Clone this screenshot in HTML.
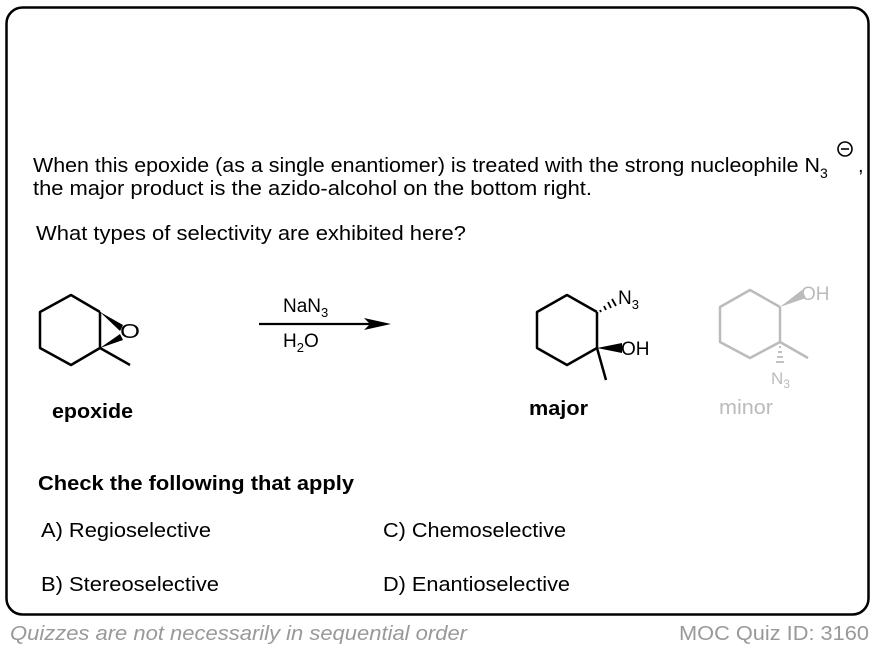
<!DOCTYPE html>
<html><head><meta charset="utf-8"><style>
html,body{margin:0;padding:0;background:#fff;}
svg{display:block;font-family:"Liberation Sans",Arial,sans-serif;}
</style></head><body>
<svg width="876" height="650" viewBox="0 0 876 650" xmlns="http://www.w3.org/2000/svg">
<rect x="6.5" y="7.5" width="862" height="607" rx="16" ry="16" fill="#fff" stroke="#000" stroke-width="2.5"/>
<g font-size="20" fill="#000">
<text x="33" y="172" textLength="787" lengthAdjust="spacingAndGlyphs">When this epoxide (as a single enantiomer) is treated with the strong nucleophile N</text>
<text x="820" y="178" font-size="14">3</text>
<text x="858" y="172">,</text>
<text x="33" y="195" textLength="559" lengthAdjust="spacingAndGlyphs">the major product is the azido-alcohol on the bottom right.</text>
<text x="36" y="240" textLength="430" lengthAdjust="spacingAndGlyphs">What types of selectivity are exhibited here?</text>
<text x="38" y="490" font-weight="bold" textLength="316" lengthAdjust="spacingAndGlyphs">Check the following that apply</text>
<text x="41" y="537" textLength="170" lengthAdjust="spacingAndGlyphs">A) Regioselective</text>
<text x="383" y="537" textLength="183" lengthAdjust="spacingAndGlyphs">C) Chemoselective</text>
<text x="41" y="591" textLength="178" lengthAdjust="spacingAndGlyphs">B) Stereoselective</text>
<text x="383" y="591" textLength="187" lengthAdjust="spacingAndGlyphs">D) Enantioselective</text>
</g>
<circle cx="845" cy="149" r="7" fill="none" stroke="#000" stroke-width="1.6"/>
<line x1="841" y1="149" x2="849" y2="149" stroke="#000" stroke-width="1.6"/>
<text x="10" y="640" font-size="20" font-style="italic" fill="#999" textLength="457" lengthAdjust="spacingAndGlyphs">Quizzes are not necessarily in sequential order</text>
<text x="679" y="640" font-size="20" fill="#999" textLength="190" lengthAdjust="spacingAndGlyphs">MOC Quiz ID: 3160</text>

<!-- epoxide -->
<g stroke="#000" stroke-width="2.5" fill="none" stroke-linejoin="round">
<polyline points="100,312 71,295 40,312 40,348 71,365 100,348 100,312"/>
<line x1="100" y1="348" x2="130" y2="365"/>
</g>
<polygon points="100,312 123,325 120,331" fill="#000"/>
<polygon points="100,348 120,334 123,340" fill="#000"/>
<text x="120" y="338" font-size="20" textLength="20" lengthAdjust="spacingAndGlyphs">O</text>
<text x="52" y="418" font-size="20" font-weight="bold" textLength="81" lengthAdjust="spacingAndGlyphs">epoxide</text>

<!-- arrow -->
<line x1="259" y1="324" x2="375" y2="324" stroke="#000" stroke-width="2.2"/>
<polygon points="391,324 364,318 370,324 364,330" fill="#000"/>
<text x="283" y="312" font-size="19">NaN<tspan font-size="13" dy="5">3</tspan></text>
<text x="283" y="347" font-size="19">H<tspan font-size="13" dy="5">2</tspan><tspan dy="-5">O</tspan></text>

<!-- major -->
<g stroke="#000" stroke-width="2.5" fill="none" stroke-linejoin="round">
<polyline points="597,312 567,295 537,312 537,348 567,365 597,348 597,312"/>
<line x1="597" y1="348" x2="606" y2="380"/>
</g>
<g stroke="#000" stroke-width="1.8">
<line x1="600" y1="310" x2="601" y2="312"/>
<line x1="604" y1="306" x2="606" y2="310"/>
<line x1="608" y1="302" x2="611" y2="308"/>
<line x1="612" y1="299" x2="616" y2="306"/>
</g>
<text x="618" y="304" font-size="19">N<tspan font-size="13" dy="5">3</tspan></text>
<polygon points="597,348 622,343 622,353" fill="#000"/>
<text x="621" y="355" font-size="19">OH</text>
<text x="529" y="415" font-size="20" font-weight="bold" textLength="59" lengthAdjust="spacingAndGlyphs">major</text>

<!-- minor -->
<g stroke="#bbb" stroke-width="2.5" fill="none" stroke-linejoin="round">
<polyline points="780,307 750,290 720,307 720,342 750,358 780,342 780,307"/>
<line x1="780" y1="342" x2="808" y2="358"/>
</g>
<polygon points="780,307 802,290 806,298" fill="#bbb"/>
<g stroke="#bbb" stroke-width="1.8">
<line x1="779" y1="347" x2="781" y2="347"/>
<line x1="778" y1="352" x2="782" y2="352"/>
<line x1="777" y1="357" x2="783" y2="357"/>
<line x1="776" y1="362" x2="784" y2="362"/>
</g>
<text x="801" y="300" font-size="19" fill="#bbb">OH</text>
<text x="771" y="384" font-size="17" fill="#bbb">N<tspan font-size="12" dy="4">3</tspan></text>
<text x="719" y="414" font-size="20" fill="#bbb" textLength="54" lengthAdjust="spacingAndGlyphs">minor</text>
</svg>
</body></html>
